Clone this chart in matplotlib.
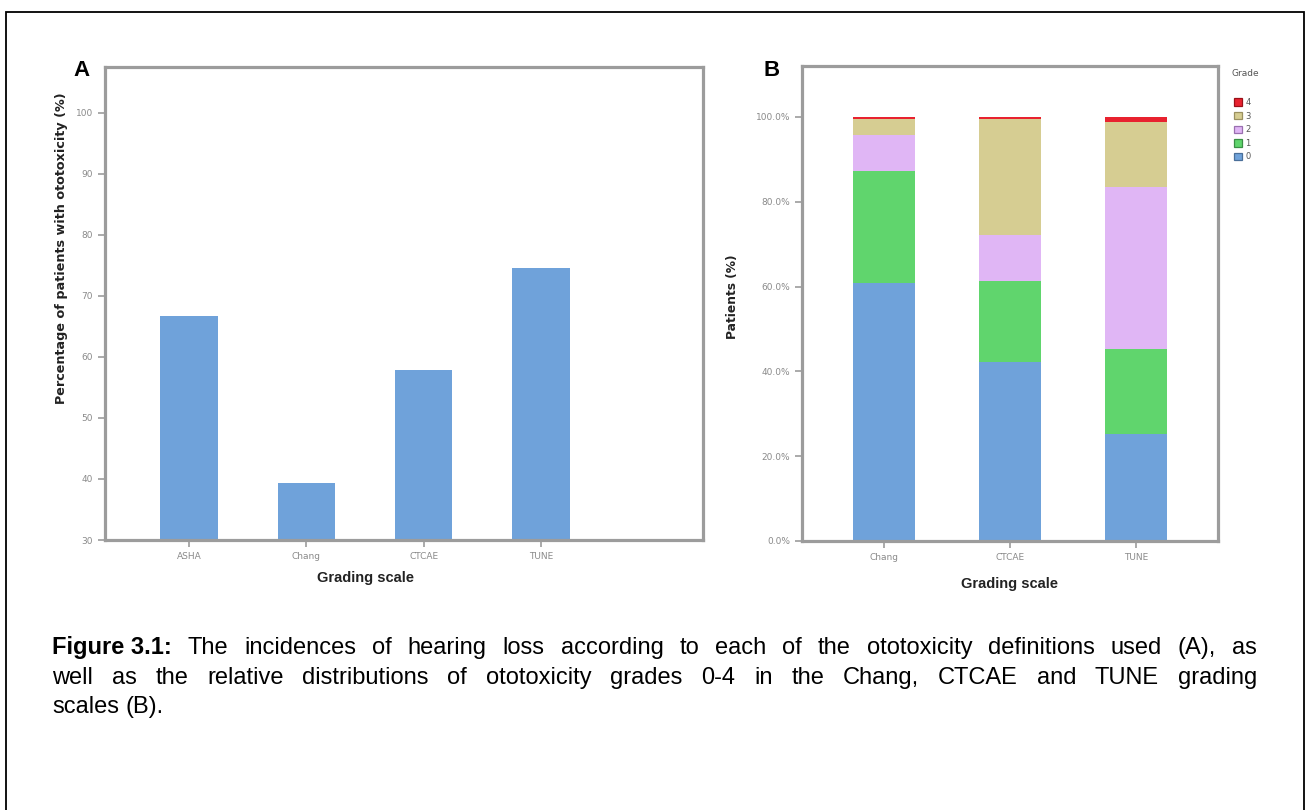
import numpy as np
import matplotlib.pyplot as plt
from matplotlib import font_manager
from matplotlib.patches import Rectangle, Patch

plt.rcParams['font.family'] = ['Liberation Sans', 'DejaVu Sans']

# Panel A: incidence of ototoxicity per definition
scales_a = ['ASHA', 'Chang', 'CTCAE', 'TUNE']
incidence = [66.7, 39.3, 57.9, 74.6]
yticks_a = [30, 40, 50, 60, 70, 80, 90, 100]

# Panel B: distribution of grades per scale (percent of patients)
scales_b = ['Chang', 'CTCAE', 'TUNE']
grades = ['0', '1', '2', '3', '4']
grade0 = [60.8, 42.2, 25.2]
grade1 = [26.5, 19.1, 20.1]
grade2 = [8.5, 10.9, 38.2]
grade3 = [3.7, 27.3, 15.3]
grade4 = [0.5, 0.5, 1.2]
yticks_b = [0, 20, 40, 60, 80, 100]

grade_colors = ['#6fa2da', '#60d56d', '#e0b6f5', '#d6cd92', '#e8222f']
grade_edges = ['#4a6f99', '#3a8f45', '#9a70b0', '#9a9060', '#9a1018']
spine_col = '#9c9c9c'
tick_col = '#8a8a8a'
label_font = ['DejaVu Sans']

# condensed face for the caption if available
names = {f.name for f in font_manager.fontManager.ttflist}
cap_family = ['Liberation Sans Narrow'] if 'Liberation Sans Narrow' in names else ['Liberation Sans']

fig = plt.figure(figsize=(13.06, 8.10), dpi=100)

# outer frame
fig.patches.append(Rectangle((6 / 1306, -0.01), 1298 / 1306, (810 - 12) / 810 + 0.01,
                             transform=fig.transFigure, fill=False,
                             edgecolor='black', lw=1.3))


def style_axes(ax):
    for s in ax.spines.values():
        s.set_color(spine_col)
        s.set_linewidth(2.3)
    ax.tick_params(axis='both', colors=spine_col, labelcolor=tick_col,
                   labelsize=6.5, length=5, width=1.2)
    for lab in ax.get_xticklabels() + ax.get_yticklabels():
        lab.set_family(label_font)


# ---- A ----
axa = fig.add_axes([105 / 1306, 270 / 810, 598 / 1306, 473 / 810])
xa = np.arange(len(scales_a))
axa.bar(xa, np.array(incidence) - 30, bottom=30, width=0.49,
        color=grade_colors[0], edgecolor='none')
axa.set_xlim(-0.715, 4.38)
axa.set_ylim(30, 107.5)
axa.set_yticks(yticks_a)
axa.set_xticks(xa)
axa.set_xticklabels(scales_a)
style_axes(axa)
axa.set_xlabel('Grading scale', fontsize=10.5, fontweight='bold', color='#222222')
axa.xaxis.set_label_coords(0.436, -0.066)
axa.set_ylabel('Percentage of patients with ototoxicity (%)', fontsize=9.2,
               fontweight='bold', color='#222222', family=label_font)
axa.yaxis.set_label_coords(-0.062, 0.617)
fig.text(82 / 1306, 1 - 71 / 810, 'A', fontsize=16, fontweight='bold',
         ha='center', va='center')

# ---- B ----
axb = fig.add_axes([802 / 1306, 269 / 810, 416 / 1306, 475 / 810])
xb = np.arange(len(scales_b))
stack = [grade0, grade1, grade2, grade3, grade4]
bottom = np.zeros(len(scales_b))
handles = []
for g, vals, col, ec in zip(grades, stack, grade_colors, grade_edges):
    axb.bar(xb, vals, bottom=bottom, width=0.495, color=col, edgecolor='none')
    bottom += np.array(vals)
    handles.append(Patch(facecolor=col, edgecolor=ec, lw=0.9, label=g))
axb.set_xlim(-0.653, 2.653)
axb.set_ylim(0, 112)
axb.set_yticks(yticks_b)
axb.set_yticklabels([f'{v:.1f}%' for v in yticks_b])
axb.set_xticks(xb)
axb.set_xticklabels(scales_b)
style_axes(axb)
axb.set_xlabel('Grading scale', fontsize=10.5, fontweight='bold', color='#222222')
axb.xaxis.set_label_coords(0.5, -0.076)
axb.set_ylabel('Patients (%)', fontsize=8.8, fontweight='bold', color='#222222',
               family=label_font)
axb.yaxis.set_label_coords(-0.151, 0.514)
fig.text(772 / 1306, 1 - 71 / 810, 'B', fontsize=16, fontweight='bold',
         ha='center', va='center')

# legend: title sits just left of the swatches
fig.text(1231 / 1306, 1 - 73 / 810, 'Grade', fontsize=6.5, color='#555555',
         family=label_font, ha='left', va='center')
leg = fig.legend(handles=handles[::-1], loc='upper left',
                 bbox_to_anchor=(1234 / 1306, 1 - 98 / 810), frameon=False,
                 fontsize=6, handlelength=1.0, handleheight=1.0,
                 handletextpad=0.35, labelspacing=0.55, borderpad=0,
                 borderaxespad=0)
for t in leg.get_texts():
    t.set_color('#555555')
    t.set_family(label_font)

# ---- caption, justified ----
cap_lines = [
    [('Figure 3.1:', 'bold')] + [(w, 'normal') for w in
        'The incidences of hearing loss according to each of the ototoxicity definitions used (A), as'.split()],
    [(w, 'normal') for w in
        'well as the relative distributions of ototoxicity grades 0-4 in the Chang, CTCAE and TUNE grading'.split()],
    [(w, 'normal') for w in 'scales (B).'.split()],
]
cap_base = [654, 684, 713]
x_left, x_right = 52, 1257
cap_size = 17

fig.canvas.draw()
renderer = fig.canvas.get_renderer()
for li, (words, yp) in enumerate(zip(cap_lines, cap_base)):
    texts = []
    widths = []
    for w, weight in words:
        t = fig.text(0, 1 - yp / 810, w, fontsize=cap_size, fontweight=weight,
                     family=cap_family, va='baseline', ha='left', color='black')
        texts.append(t)
        widths.append(t.get_window_extent(renderer).width)
    if li < len(cap_lines) - 1:
        gap = (x_right - x_left - sum(widths)) / (len(words) - 1)
    else:
        sp = fig.text(0, 0, 'a a', fontsize=cap_size, family=cap_family)
        sa = fig.text(0, 0, 'aa', fontsize=cap_size, family=cap_family)
        gap = sp.get_window_extent(renderer).width - sa.get_window_extent(renderer).width
        sp.remove()
        sa.remove()
    x = x_left
    for t, wd in zip(texts, widths):
        t.set_x(x / 1306)
        x += wd + gap

fig.savefig('out.png', dpi=100)
